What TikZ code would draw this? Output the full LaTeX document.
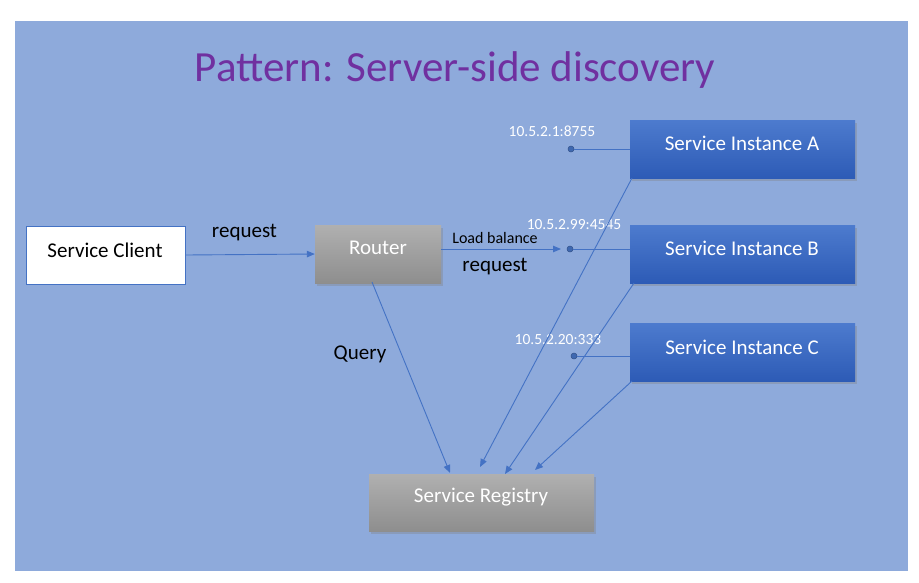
\documentclass[tikz,border=0pt]{standalone}
\usepackage{fontspec}
\setmainfont{Carlito}
\usetikzlibrary{arrows.meta,shadows}
\definecolor{bg}{HTML}{8EAADB}
\definecolor{ttl}{HTML}{7030A0}
\definecolor{ln}{HTML}{4472C4}
\definecolor{btop}{HTML}{4D7BCE}
\definecolor{bbot}{HTML}{2D5BB6}
\definecolor{gtop}{HTML}{B0B0B0}
\definecolor{gbot}{HTML}{8E8E8E}
\definecolor{dotc}{HTML}{3F68B0}
\tikzset{
  shd/.style={drop shadow={opacity=0.35,shadow xshift=2pt,shadow yshift=-3pt}},
  bluebox/.style={rectangle,inner sep=0,minimum width=225pt,minimum height=58pt,top color=btop,bottom color=bbot,draw=none,shd},
  graybox/.style={rectangle,inner sep=0,minimum height=58pt,top color=gtop,bottom color=gbot,draw=none,shd},
  clientbox/.style={rectangle,inner sep=0,minimum width=159pt,minimum height=58pt,fill=white,draw=ln,line width=1pt},
  wtxt/.style={text=white,font=\fontsize{21}{25}\selectfont,inner sep=0},
  btxt/.style={text=black,font=\fontsize{21}{25}\selectfont,inner sep=0},
  iptxt/.style={text=white,font=\fontsize{15.5}{18}\selectfont,inner sep=0},
  conn/.style={draw=ln,line width=0.9pt},
  arr/.style={conn,-{Triangle[length=8pt,width=6.5pt]}},
  ipdot/.style={circle,fill=dotc,draw=ln!70!black,line width=0.5pt,inner sep=0,minimum size=6pt}
}
\begin{document}
\begin{tikzpicture}[x=1pt,y=-1pt]
\fill[white] (0,0) rectangle (919,582);
\useasboundingbox (0,0) rectangle (919,582);
\fill[bg] (15,21) rectangle (908,571);

\node[text=ttl,font=\fontsize{43}{50}\selectfont,inner sep=0] (title) at (455,70) {Pattern: Server-side discovery};

% boxes
\node[clientbox] (client) at (105.5,255) {};
\node[graybox,minimum width=126pt] (router) at (378,254) {};
\node[bluebox] (A) at (742.5,149) {};
\node[bluebox] (B) at (742.5,254) {};
\node[bluebox] (C) at (742.5,352) {};
\node[graybox,minimum width=225pt,minimum height=57pt] (reg) at (481.5,502.5) {};

% box texts
\node[btxt] (clientt) at (105,250) {Service Client};
\node[wtxt] (routert) at (378,248) {Router};
\node[wtxt] (At) at (742,143) {Service Instance A};
\node[wtxt] (Bt) at (742,248) {Service Instance B};
\node[wtxt] (Ct) at (742,347) {Service Instance C};
\node[wtxt] (regt) at (481,497) {Service Registry};

% dots and IP labels
\node[ipdot] (dA) at (571,149) {};
\node[ipdot] (dB) at (570,249) {};
\node[ipdot] (dC) at (574,356) {};
\node[iptxt] (ipA) at (552,131) {10.5.2.1:8755};
\node[iptxt] (ipB) at (574,225) {10.5.2.99:4545};
\node[iptxt] (ipC) at (558,340) {10.5.2.20:333};

\draw[conn] (dA) -- (A.west |- dA);
\draw[conn] (dB) -- (B.west |- dB);
\draw[conn] (dC) -- (C.west |- dC);

% client -> router
\draw[arr] (client.east) -- (router.west);
\node[btxt] (req1) at (244.5,233) {request};

% router -> B dot
\coordinate (lbEnd) at (561,249);
\draw[arr] (router.east |- dB) -- (lbEnd);
\node[text=black,font=\fontsize{16}{19}\selectfont,inner sep=0] (lb) at (495,238) {Load balance};
\node[btxt] (req2) at (495,267) {request};

% router -> registry
\coordinate (rS) at (372,282);
\coordinate (rE) at (450,473);
\draw[arr] (rS) -- (rE);
\node[btxt] (query) at (360,354) {Query};

% instances -> registry
\coordinate (aS) at (632,178);
\coordinate (aE) at (480,467);
\coordinate (bS) at (634,283);
\coordinate (bE) at (505,474);
\coordinate (cS) at (632,381);
\coordinate (cE) at (535,470);
\draw[arr] (aS) -- (aE);
\draw[arr] (bS) -- (bE);
\draw[arr] (cS) -- (cE);
\end{tikzpicture}
\end{document}
